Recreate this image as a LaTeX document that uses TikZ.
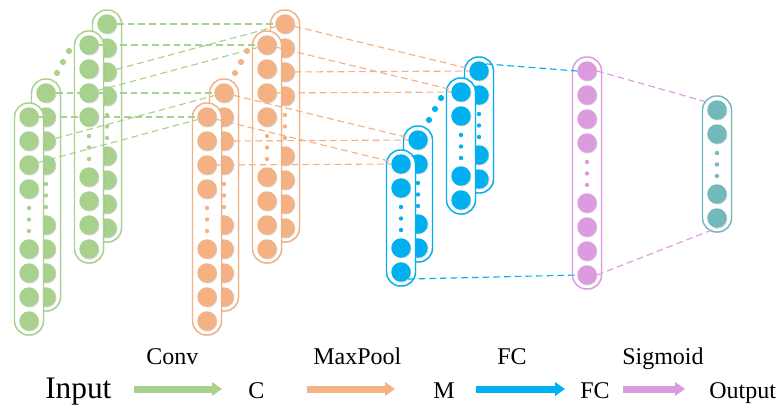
\documentclass[tikz,border=0pt]{standalone}
\usepackage{fontspec}
\setmainfont{Liberation Serif}
\usetikzlibrary{arrows.meta,shadows}

\definecolor{nngreen}{HTML}{A9D18E}
\definecolor{nnorange}{HTML}{F4B183}
\definecolor{nnblue}{HTML}{00B0F0}
\definecolor{nnpink}{HTML}{DC9ADF}
\definecolor{nnteal}{HTML}{72B9BC}

\tikzset{
	neuron/.style={circle, inner sep=0pt, minimum size=14.6pt, draw=none,
		drop shadow={shadow xshift=0.5pt, shadow yshift=-0.6pt, opacity=0.3}},
	colbox/.style={line width=1.1pt, fill=white, rounded corners=10.5pt,
		drop shadow={shadow xshift=0.6pt, shadow yshift=-0.6pt, opacity=0.2}},
	linkline/.style={line width=0.85pt, dash pattern=on 5pt off 3pt},
	flowarrow/.style={line width=5.25pt, -{Triangle[length=7.5pt,width=10pt]}},
	lbl/.style={inner sep=0pt, font=\fontsize{18}{22}\selectfont},
}

% one column: name, x, y of first unit, units per half, colour
\newcommand{\nncolumn}[5]{%
	\pgfmathsetmacro{\nnbot}{#3+48*(#4-1)+74}
	\draw[colbox, draw=#5] (#2-14.5,#3-14) rectangle (#2+14.5,\nnbot);
	\foreach \k in {1,...,#4} {
		\pgfmathtruncatemacro{\kk}{\k+#4}
		\node[neuron, fill=#5] (#1-\k) at (#2,{#3+24*(\k-1)}) {};
		\node[neuron, fill=#5] (#1-\kk) at (#2,{#3+24*(\k-1)+24*(#4-1)+60}) {};
	}
	\foreach \d in {19,30.5,42}
		\fill[#5] (#2,{#3+24*(#4-1)+\d}) circle (2.2);
}

% a stack of four columns: prefix, x, y of front column, units per half, colour
\newcommand{\nnstack}[5]{%
	\nncolumn{#1D}{#2+78}{#3-93}{#4}{#5}
	\nncolumn{#1C}{#2+60}{#3-72}{#4}{#5}
	\foreach \dx/\dy in {28/44,34/55,40/66}
		\fill[#5] (#2+\dx,#3-\dy) circle (3.1);
	\nncolumn{#1B}{#2+17}{#3-24}{#4}{#5}
	\nncolumn{#1A}{#2}{#3}{#4}{#5}
}

\begin{document}
\begin{tikzpicture}[x=0.75pt, y=-0.75pt]
	\useasboundingbox (0,0) rectangle (778,406);

	\nnstack{g}{29}{117}{4}{nngreen}
	\nnstack{o}{207}{117}{4}{nnorange}
	\nnstack{b}{401}{164}{2}{nnblue}
	\nncolumn{p}{587}{71}{4}{nnpink}
	\nncolumn{t}{717}{110}{2}{nnteal}

	\foreach \c in {A,B,C,D} {
		\draw[linkline, nngreen] (g\c-1) -- (o\c-1);
		\draw[linkline, nngreen] (g\c-3) -- (o\c-1);
		\draw[linkline, nnorange] (o\c-1) -- (b\c-1);
		\draw[linkline, nnorange] (o\c-3) -- (b\c-1);
	}
	\draw[linkline, nnblue] (bD-1.north east) -- (p-1.west);
	\draw[linkline, nnblue] (bA-4.south east) -- (p-8.west);
	\draw[linkline, nnpink] (p-1.east) -- (t-1.north west);
	\draw[linkline, nnpink] (p-8.east) -- (t-4.south);

	\node[lbl, anchor=base west, font=\fontsize{23.5}{28}\selectfont] (input) at (45,398) {Input};
	\node[lbl, anchor=base west] (cmap) at (248,398) {C};
	\node[lbl, anchor=base west] (mmap) at (433,398) {M};
	\node[lbl, anchor=base west] (fcmap) at (580,398) {FC};
	\node[lbl, anchor=base west] (output) at (709,398) {Output};
	\node[lbl, anchor=base west] (convtxt) at (146,364) {Conv};
	\node[lbl, anchor=base west] (pooltxt) at (313,364) {MaxPool};
	\node[lbl, anchor=base west] (fctxt) at (497,364) {FC};
	\node[lbl, anchor=base west] (sigtxt) at (622,364) {Sigmoid};

	\draw[flowarrow, nngreen] ([xshift=16.5pt,yshift=6.75pt]input.base east) -- ([xshift=-19.5pt,yshift=6.75pt]cmap.base west);
	\draw[flowarrow, nnorange] ([xshift=31.5pt,yshift=6.75pt]cmap.base east) -- ([xshift=-28.5pt,yshift=6.75pt]mmap.base west);
	\draw[flowarrow, nnblue] ([xshift=15.75pt,yshift=6.75pt]mmap.base east) -- ([xshift=-11.25pt,yshift=6.75pt]fcmap.base west);
	\draw[flowarrow, nnpink] ([xshift=9.75pt,yshift=6.75pt]fcmap.base east) -- ([xshift=-18pt,yshift=6.75pt]output.base west);
\end{tikzpicture}
\end{document}
